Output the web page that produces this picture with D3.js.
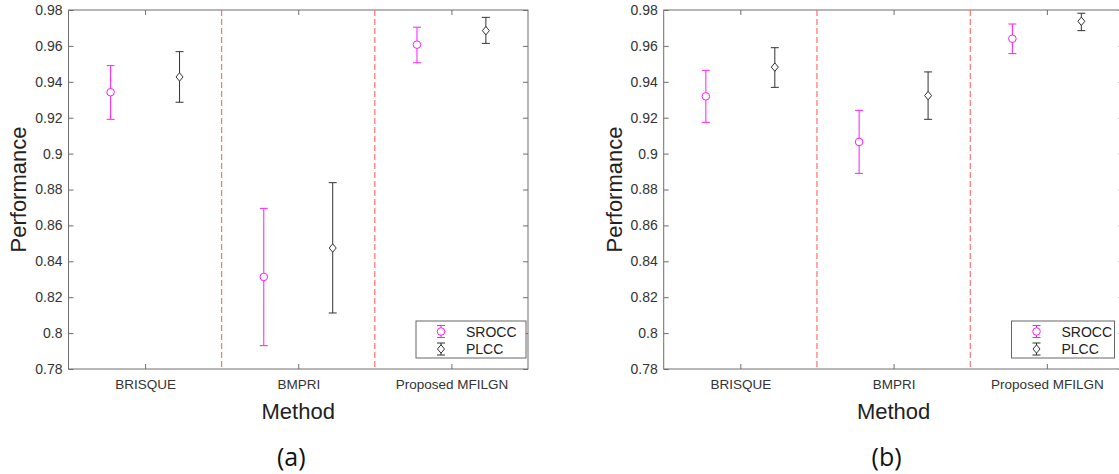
<!DOCTYPE html>
<html>
<head>
<meta charset="utf-8">
<script src="https://cdn.jsdelivr.net/npm/d3@7"></script>
<style>
  html, body { margin: 0; padding: 0; background: #fff; }
  svg { display: block; font-family: "Liberation Sans", Arial, sans-serif; }
</style>
</head>
<body>
<div id="chart"></div>
<script>
// categories and ticks
const methods = ['BRISQUE', 'BMPRI', 'Proposed MFILGN'];
const yTicks = [0.78, 0.8, 0.82, 0.84, 0.86, 0.88, 0.9, 0.92, 0.94, 0.96, 0.98];
const seriesNames = ['SROCC', 'PLCC'];

// panel (a)
const srocc_a = [0.9342, 0.8313, 0.9607];
const srocc_a_lo = [0.9191, 0.7930, 0.9506];
const srocc_a_hi = [0.9490, 0.8695, 0.9704];
const plcc_a = [0.9427, 0.8474, 0.9685];
const plcc_a_lo = [0.9286, 0.8112, 0.9614];
const plcc_a_hi = [0.9568, 0.8838, 0.9759];

// panel (b)
const srocc_b = [0.9319, 0.9065, 0.9640];
const srocc_b_lo = [0.9174, 0.8890, 0.9557];
const srocc_b_hi = [0.9464, 0.9241, 0.9722];
const plcc_b = [0.9482, 0.9323, 0.9737];
const plcc_b_lo = [0.9369, 0.9191, 0.9685];
const plcc_b_hi = [0.9590, 0.9455, 0.9782];

const W = 1119, H = 474;
const FONT = '"Liberation Sans", Arial, sans-serif';
const svg = d3.select('#chart').append('svg')
  .attr('width', W)
  .attr('height', H)
  .attr('viewBox', [0, 0, W, H]);

const axisColor = '#6f6f6f';
const textColor = '#333';
const colors = { SROCC: '#ff1aff', PLCC: '#333' };

const drawPanel = (left, right, label, legendW, series) => {
  const top = 10, bottom = 369;
  const g = svg.append('g');

  const x = d3.scaleLinear().domain([0, 3]).range([left, right]);
  const y = d3.scaleLinear().domain([0.78, 0.98]).range([bottom, top]);

  // frame
  g.append('rect')
    .attr('x', left).attr('y', top)
    .attr('width', right - left).attr('height', bottom - top)
    .attr('fill', 'none').attr('stroke', axisColor).attr('stroke-width', 1);

  // left axis
  const ax = g.append('g')
    .attr('transform', `translate(${left},0)`)
    .call(d3.axisLeft(y).tickValues(yTicks).tickSize(-5).tickPadding(6)
      .tickFormat((d) => String(+d.toFixed(2))));
  // bottom axis
  const bx = g.append('g')
    .attr('transform', `translate(0,${bottom})`)
    .call(d3.axisBottom(x).tickValues([0.5, 1.5, 2.5]).tickSize(-5).tickPadding(10)
      .tickFormat((d, i) => methods[i]));
  // top & right ticks
  const tx = g.append('g')
    .attr('transform', `translate(0,${top})`)
    .call(d3.axisTop(x).tickValues([0.5, 1.5, 2.5]).tickSize(-5).tickFormat(''));
  const rx = g.append('g')
    .attr('transform', `translate(${right},0)`)
    .call(d3.axisRight(y).tickValues(yTicks).tickSize(-5).tickFormat(''));

  [ax, bx, tx, rx].forEach((a) => {
    a.attr('font-family', FONT);
    a.select('.domain').remove();
    a.selectAll('line').attr('stroke', axisColor);
    a.selectAll('text').attr('fill', textColor);
  });
  ax.attr('font-size', 14);
  bx.attr('font-size', 13.5);

  // dividers
  g.selectAll('line.div')
    .data([1, 2])
    .join('line')
    .attr('class', 'div')
    .attr('x1', (d) => x(d)).attr('x2', (d) => x(d))
    .attr('y1', top).attr('y2', bottom)
    .attr('stroke', '#ff5555')
    .attr('stroke-width', 1)
    .attr('stroke-dasharray', '6,3');

  // error bars + markers
  const offsets = [-0.225, 0.225];
  series.forEach((s, si) => {
    const col = colors[s.name];
    const pts = methods.map((m, i) => ({ cx: x(i + 0.5 + offsets[si]), v: s.v[i], lo: s.lo[i], hi: s.hi[i] }));
    const eg = g.append('g').attr('stroke', col).attr('fill', 'none').attr('stroke-width', 1);
    eg.selectAll('line.v').data(pts).join('line').attr('class', 'v')
      .attr('x1', (d) => d.cx).attr('x2', (d) => d.cx)
      .attr('y1', (d) => y(d.lo)).attr('y2', (d) => y(d.hi));
    eg.selectAll('line.cl').data(pts).join('line').attr('class', 'cl')
      .attr('x1', (d) => d.cx - 4).attr('x2', (d) => d.cx + 4)
      .attr('y1', (d) => y(d.lo)).attr('y2', (d) => y(d.lo));
    eg.selectAll('line.ch').data(pts).join('line').attr('class', 'ch')
      .attr('x1', (d) => d.cx - 4).attr('x2', (d) => d.cx + 4)
      .attr('y1', (d) => y(d.hi)).attr('y2', (d) => y(d.hi));
    if (s.name === 'SROCC') {
      eg.selectAll('circle').data(pts).join('circle')
        .attr('cx', (d) => d.cx).attr('cy', (d) => y(d.v)).attr('r', 3.8)
        .attr('fill', '#fff');
    } else {
      eg.selectAll('path').data(pts).join('path')
        .attr('d', (d) => `M${d.cx},${y(d.v) - 4.2}L${d.cx + 3.5},${y(d.v)}L${d.cx},${y(d.v) + 4.2}L${d.cx - 3.5},${y(d.v)}Z`)
        .attr('fill', '#fff');
    }
  });

  // legend
  const lx = right - 112, ly = 321;
  const lg = g.append('g').attr('transform', `translate(${lx},${ly})`);
  lg.append('rect').attr('width', legendW).attr('height', 37)
    .attr('fill', '#fff').attr('stroke', '#666').attr('stroke-width', 1);
  seriesNames.forEach((nm, i) => {
    const cy = 10.5 + i * 17.5, cx = 25;
    const it = lg.append('g').attr('stroke', colors[nm]).attr('fill', '#fff');
    it.append('line').attr('x1', cx).attr('x2', cx).attr('y1', cy - 6).attr('y2', cy + 6);
    it.append('line').attr('x1', cx - 4).attr('x2', cx + 4).attr('y1', cy - 6).attr('y2', cy - 6);
    it.append('line').attr('x1', cx - 4).attr('x2', cx + 4).attr('y1', cy + 6).attr('y2', cy + 6);
    if (nm === 'SROCC') {
      it.append('circle').attr('cx', cx).attr('cy', cy).attr('r', 3.8);
    } else {
      it.append('path').attr('d', `M${cx},${cy - 4.2}L${cx + 3.5},${cy}L${cx},${cy + 4.2}L${cx - 3.5},${cy}Z`);
    }
    lg.append('text').attr('x', 50).attr('y', cy).attr('dy', '0.36em')
      .attr('font-family', FONT).attr('font-size', 14).attr('fill', '#222').text(nm);
  });

  // axis labels
  const mid = (left + right) / 2;
  g.append('text')
    .attr('transform', `translate(${left - 50},${(top + bottom) / 2}) rotate(-90)`)
    .attr('text-anchor', 'middle').attr('dy', '0.36em')
    .attr('font-family', FONT).attr('font-size', 22).attr('fill', '#222').text('Performance');
  g.append('text')
    .attr('x', mid).attr('y', 411).attr('dy', '0.36em')
    .attr('text-anchor', 'middle').attr('font-family', FONT)
    .attr('font-size', 22).attr('fill', '#222').text('Method');
  g.append('text')
    .attr('x', mid - 7).attr('y', 457).attr('dy', '0.36em')
    .attr('text-anchor', 'middle').attr('font-size', 25)
    .attr('font-family', '"Open Sans", sans-serif').attr('fill', '#111').text(label);
};

drawPanel(68.5, 528, '(a)', 110, [
  { name: 'SROCC', v: srocc_a, lo: srocc_a_lo, hi: srocc_a_hi },
  { name: 'PLCC', v: plcc_a, lo: plcc_a_lo, hi: plcc_a_hi }
]);
drawPanel(663.7, 1123.5, '(b)', 103, [
  { name: 'SROCC', v: srocc_b, lo: srocc_b_lo, hi: srocc_b_hi },
  { name: 'PLCC', v: plcc_b, lo: plcc_b_lo, hi: plcc_b_hi }
]);
</script>
</body>
</html>
